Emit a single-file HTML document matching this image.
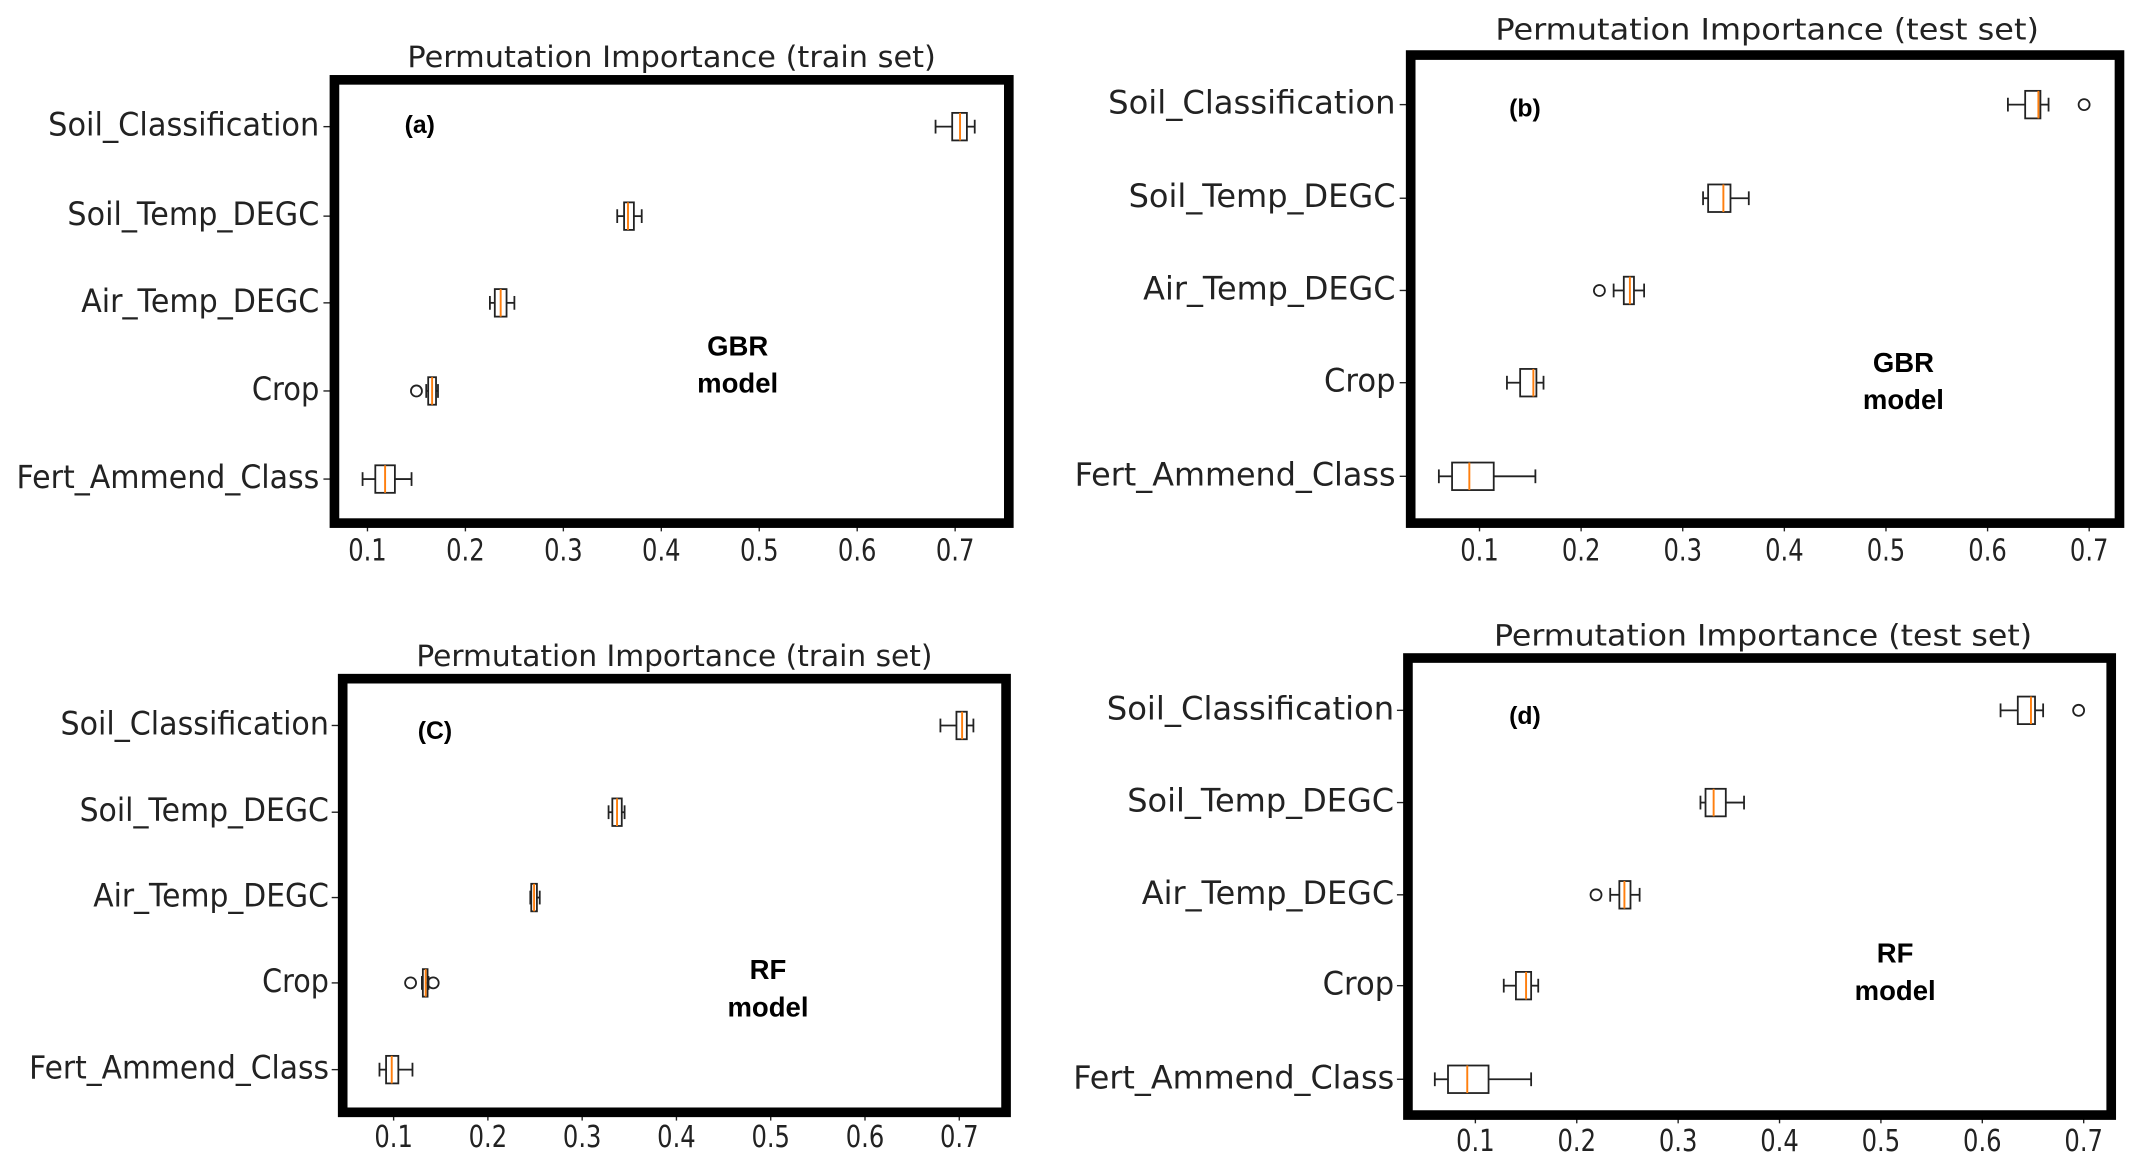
<!DOCTYPE html>
<html><head><meta charset="utf-8">
<style>
html,body{margin:0;padding:0;background:#fff;width:2147px;height:1166px;overflow:hidden}
svg{display:block}
text{font-family:"DejaVu Sans","Liberation Sans",sans-serif;fill:#222}
</style></head>
<body>
<svg id="chart" width="2147" height="1166" viewBox="0 0 1560 847" preserveAspectRatio="none" xmlns="http://www.w3.org/2000/svg"></svg>
<script>
// categories (top to bottom)
const categories = ["Soil_Classification","Soil_Temp_DEGC","Air_Temp_DEGC","Crop","Fert_Ammend_Class"];
const tickLabels = ["0.1","0.2","0.3","0.4","0.5","0.6","0.7"];
const tickValues = [0.1,0.2,0.3,0.4,0.5,0.6,0.7];
// [whiskerLo, q1, median, q3, whiskerHi]
const statsA = [[0.68,0.697,0.705,0.712,0.72],[0.355,0.362,0.366,0.372,0.38],[0.225,0.23,0.236,0.242,0.25],[0.16,0.162,0.166,0.17,0.172],[0.095,0.108,0.118,0.128,0.145]];
const outliersA = [[],[],[],[0.15],[]];
const statsB = [[0.62,0.637,0.65,0.652,0.66],[0.32,0.325,0.34,0.347,0.365],[0.232,0.242,0.248,0.252,0.262],[0.127,0.14,0.153,0.156,0.163],[0.06,0.073,0.09,0.114,0.155]];
const outliersB = [[0.695],[],[0.218],[],[]];
const statsC = [[0.68,0.697,0.703,0.708,0.715],[0.328,0.332,0.337,0.342,0.345],[0.245,0.246,0.249,0.252,0.255],[0.13,0.131,0.134,0.136,0.137],[0.085,0.092,0.098,0.105,0.12]];
const outliersC = [[],[],[],[0.118,0.142],[]];
const statsD = [[0.618,0.635,0.648,0.652,0.66],[0.322,0.327,0.335,0.347,0.365],[0.233,0.242,0.247,0.253,0.262],[0.128,0.14,0.15,0.155,0.162],[0.06,0.073,0.092,0.113,0.155]];
const outliersD = [[0.695],[],[0.219],[],[]];

const NS="http://www.w3.org/2000/svg";
const svg=document.getElementById('chart');
function mk(tag,attrs,parent){const e=document.createElementNS(NS,tag);for(const k in attrs)e.setAttribute(k,attrs[k]);(parent||svg).appendChild(e);return e;}

const panels=[
 {id:'a',stats:statsA,out:outliersA,fx0:243,fx1:733,fy0:58,fy1:380,t0:267,t7:694,rows:[92,157,220,284,348],lx:232,ls:1,title:"Permutation Importance (train set)",tw:384,ty:43,tcx:488,tky:401,tag:"(a)",tagx:305,tagy:92,m1:"GBR",mx:536,my:253},
 {id:'b',stats:statsB,out:outliersB,fx0:1025,fx1:1540,fy0:40,fy1:380,t0:1075,t7:1518,rows:[76,144,211,278,346],lx:1014,ls:1.06,title:"Permutation Importance (test set)",tw:395,ty:23,tcx:1284,tky:401,tag:"(b)",tagx:1108,tagy:80,m1:"GBR",mx:1383,my:265},
 {id:'c',stats:statsC,out:outliersC,fx0:249,fx1:731,fy0:493,fy1:808,t0:286,t7:697,rows:[527,590,652,714,777],lx:239,ls:0.99,title:"Permutation Importance (train set)",tw:375,ty:478,tcx:490,tky:827,tag:"(C)",tagx:316,tagy:532,m1:"RF",mx:558,my:706},
 {id:'d',stats:statsD,out:outliersD,fx0:1023,fx1:1534,fy0:478,fy1:810,t0:1072,t7:1514,rows:[516,583,650,716,784],lx:1013,ls:1.06,title:"Permutation Importance (test set)",tw:391,ty:463,tcx:1281,tky:830,tag:"(d)",tagx:1108,tagy:521,m1:"RF",mx:1377,my:694}
];
const lw=[197,183,173,49,220];
panels.forEach(p=>{
  const g=mk('g',{});
  
  
  const x=v=>p.t0+(v-0.1)*(p.t7-p.t0)/0.6;
  const tt=mk('text',{x:p.tcx,y:p.ty,'font-size':21,'text-anchor':'middle','dominant-baseline':'middle',textLength:p.tw,lengthAdjust:'spacingAndGlyphs'},g);
  tt.textContent=p.title;
  
  
  categories.forEach((c,i)=>{
    const y=p.rows[i];
    const t=mk('text',{x:p.lx,y:y,'font-size':23,'text-anchor':'end','dominant-baseline':'middle',textLength:lw[i]*p.ls,lengthAdjust:'spacingAndGlyphs'},g);
    t.textContent=c;
    
    
    mk('line',{x1:p.fx0-3,x2:p.fx0-8,y1:y,y2:y,stroke:'#222'},g);
    const s=p.stats[i];const h=10;
    const bg=mk('g',{stroke:'#222','stroke-width':1.3,fill:'none'},g);
    
    
    mk('line',{x1:x(s[0]),x2:x(s[1]),y1:y,y2:y},bg);
    mk('line',{x1:x(s[3]),x2:x(s[4]),y1:y,y2:y},bg);
    mk('line',{x1:x(s[0]),x2:x(s[0]),y1:y-5,y2:y+5},bg);
    mk('line',{x1:x(s[4]),x2:x(s[4]),y1:y-5,y2:y+5},bg);
    mk('rect',{x:x(s[1]),y:y-h,width:Math.max(1,x(s[3])-x(s[1])),height:2*h,fill:'#fff'},bg);
    mk('line',{x1:x(s[2]),x2:x(s[2]),y1:y-h,y2:y+h,stroke:'#ff7f0e','stroke-width':1.4},bg);
    p.out[i].forEach(o=>{
      const ci=mk('circle',{cx:x(o),cy:y,r:4},bg);
      
      
    });
  });
  tickValues.forEach((v,k)=>{
    mk('line',{x1:x(v),x2:x(v),y1:p.fy1,y2:p.fy1+6,stroke:'#222'},g);
    const t=mk('text',{x:x(v),y:p.tky,'font-size':22,'text-anchor':'middle','dominant-baseline':'middle',textLength:28,lengthAdjust:'spacingAndGlyphs'},g);
    t.textContent=tickLabels[k];
    
    
  });
  const fr=mk('rect',{x:p.fx0,y:p.fy0,width:p.fx1-p.fx0,height:p.fy1-p.fy0,fill:'none',stroke:'#000','stroke-width':7},g);
  
  
  const tg=mk('text',{x:p.tagx,y:p.tagy,'font-size':18,'font-weight':'bold','text-anchor':'middle','dominant-baseline':'middle',style:'fill:#000;font-family:Liberation Sans,sans-serif'},g);
  tg.textContent=p.tag;
  
  
  const m1=mk('text',{x:p.mx,y:p.my,'font-size':20,'font-weight':'bold','text-anchor':'middle','dominant-baseline':'middle',style:'fill:#000;font-family:Liberation Sans,sans-serif'},g);
  m1.textContent=p.m1;
  
  
  const m2=mk('text',{x:p.mx,y:p.my+27,'font-size':20,'font-weight':'bold','text-anchor':'middle','dominant-baseline':'middle',style:'fill:#000;font-family:Liberation Sans,sans-serif'},g);
  m2.textContent="model";
  
  
});
</script>
</body></html>
